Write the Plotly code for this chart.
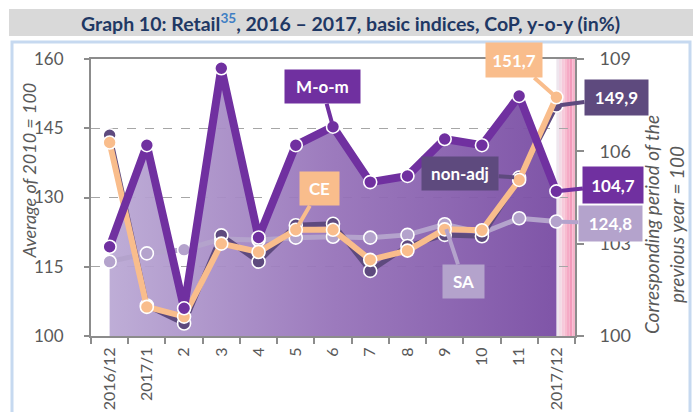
import plotly.graph_objects as go

categories = ["2016/12", "2017/1", "2", "3", "4", "5", "6", "7", "8", "9", "10", "11", "2017/12"]
mom = [102.9, 106.2, 100.9, 108.7, 103.2, 106.2, 106.8, 105.0, 105.2, 106.4, 106.2, 107.8, 104.7]
ce = [141.9, 106.3, 104.2, 120.0, 118.2, 123.0, 123.0, 116.5, 118.5, 123.1, 122.9, 133.8, 151.7]
sa = [116.1, 117.9, 118.7, 121.0, 120.8, 121.3, 121.5, 121.3, 121.9, 124.2, 122.3, 125.5, 124.8]
nonadj = [143.5, 106.6, 102.7, 121.8, 116.1, 124.0, 124.3, 114.1, 119.5, 121.9, 121.6, 134.3, 149.9]
left_ticks = [100, 115, 130, 145, 160]
right_ticks = [100, 103, 106, 109]

FONT = "Lato, 'Open Sans', sans-serif"
C_MOM = "#7030a0"
C_CE = "#f9bd8c"
C_SA = "#b4a3cc"
C_NA = "#5e4a7e"
GREY = "#595959"
AXC = "#8c8c8c"

fig = go.Figure()

# area under M-o-m (right axis, main subplot -> drawn first)
fig.add_trace(go.Scatter(
    x=categories, y=mom, yaxis="y", mode="none", fill="tozeroy",
    fillgradient=dict(type="horizontal",
                      colorscale=[[0, "rgba(186,168,212,0.94)"], [0.5, "rgba(150,114,185,0.94)"],
                                  [1, "rgba(122,78,164,0.96)"]]),
    hoverinfo="skip", showlegend=False))


def line_trace(y, color, width, axis):
    return go.Scatter(
        x=categories, y=y, yaxis=axis, mode="lines+markers",
        line=dict(color=color, width=width),
        marker=dict(size=13, color=color, line=dict(color="white", width=1.6)),
        showlegend=False)


fig.add_trace(line_trace(sa, C_SA, 5, "y2"))
fig.add_trace(line_trace(nonadj, C_NA, 5, "y2"))
fig.add_trace(line_trace(ce, C_CE, 6, "y2"))
fig.add_trace(line_trace(mom, C_MOM, 8, "y3"))

# pink decorative strip at right
pinks = ["#eee6ee", "#f2dbe6", "#f6cadb", "#f7bcd0", "#f5aac5", "#f39bbb", "#f6b4cb"]
n = len(pinks)
shapes = []
for i, col in enumerate(pinks):
    shapes.append(dict(type="rect", xref="x", yref="y domain",
                       x0=12 + 0.5 * i / n, x1=12 + 0.5 * (i + 1) / n, y0=0, y1=1,
                       fillcolor=col, line=dict(width=0), layer="below"))

W, H = 693, 412
L, R, T, B = 91, 118, 59, 76
pw, ph = W - L - R, H - T - B


def px(x):
    return (x - L) / pw


def py(y):
    return (H - B - y) / ph


shapes.append(dict(type="rect", xref="paper", yref="paper", x0=px(9), x1=px(693), y0=py(36), y1=py(9),
                   fillcolor="#d9d9d9", line=dict(width=0), layer="below"))
shapes.append(dict(type="rect", xref="paper", yref="paper", x0=px(12), x1=px(690), y0=py(420), y1=py(42),
                   fillcolor="rgba(0,0,0,0)", line=dict(color="#c6d9f0", width=3), layer="below"))

annotations = [
    dict(xref="paper", yref="paper", x=px(350), y=py(23), showarrow=False,
         text="<b>Graph 10: Retail<sup><span style='color:#3f7fc4'>35</span></sup>, 2016 – 2017, basic indices, CoP, y-o-y (in%)</b>",
         font=dict(family=FONT, size=19.5, color="#1f3864"), xanchor="center", yanchor="middle"),
    dict(xref="paper", yref="paper", x=px(28.5), y=py(171), showarrow=False, textangle=-90,
         text="<i>Average of 2010 = 100</i>", font=dict(family=FONT, size=18, color=GREY),
         xanchor="center", yanchor="middle"),
    dict(xref="paper", yref="paper", x=px(664), y=py(225), showarrow=False, textangle=-90,
         text="<i>Corresponding period of the<br>previous year = 100</i>",
         font=dict(family=FONT, size=19, color=GREY), xanchor="center", yanchor="middle"),
]


def callout(text, cat, yval, yref, color, ax, ay, w, h):
    return dict(x=cat, y=yval, xref="x", yref=yref, text="<b>%s</b>" % text,
                showarrow=True, arrowhead=0, arrowwidth=4, arrowcolor=color,
                ax=ax, ay=ay, standoff=5, bgcolor=color, borderpad=0, width=w, height=h,
                font=dict(family=FONT, size=17, color="white"), align="center", valign="middle")


annotations += [
    callout("M-o-m", categories[6], mom[6], "y3", C_MOM, -11, -40, 75, 33),
    callout("CE", categories[5], ce[5], "y2", C_CE, 24, -41, 39, 33),
    callout("non-adj", categories[11], nonadj[11], "y2", C_NA, -59, -4, 76, 33),
    callout("SA", categories[9], sa[9], "y2", C_SA, 19, 57, 41, 33),
    callout("151,7", categories[12], ce[12], "y2", C_CE, -42, -37, 56, 34),
    callout("149,9", categories[12], nonadj[12], "y2", C_NA, 60, -8, 63, 35),
    callout("104,7", categories[12], mom[12], "y3", C_MOM, 57, -6, 60, 36),
    callout("124,8", categories[12], sa[12], "y2", C_SA, 54, 2, 63, 35),
]

fig.update_layout(
    width=W, height=H, margin=dict(l=L, r=R, t=T, b=B, pad=0, autoexpand=False),
    paper_bgcolor="white", plot_bgcolor="white",
    font=dict(family=FONT, color=GREY),
    shapes=shapes, annotations=annotations, showlegend=False,
    xaxis=dict(type="category", categoryorder="array", categoryarray=categories,
               range=[-0.5, 12.5], tickson="boundaries", ticks="outside", ticklen=6,
               tickcolor=AXC, tickwidth=2, showline=True, linecolor=AXC, linewidth=2,
               mirror=True, showgrid=False, tickangle=-90, tickfont=dict(size=16, color=GREY),
               ticklabelstandoff=3, automargin=False),
    yaxis=dict(range=[100, 109], tickvals=right_ticks, side="right",
               ticks="outside", ticklen=7, tickcolor=AXC, tickwidth=2,
               showline=True, linecolor=AXC, linewidth=2, showgrid=False, zeroline=False,
               tickfont=dict(size=18, color=GREY), ticklabelstandoff=12, automargin=False),
    yaxis2=dict(range=[100, 160], tickvals=left_ticks, overlaying="y", side="left",
                ticks="outside", ticklen=5,
                tickcolor=AXC, tickwidth=2, showline=True, linecolor=AXC, linewidth=2,
                showgrid=True, gridcolor="#a6a6a6", griddash="dash", gridwidth=1.3,
                zeroline=False, tickfont=dict(size=17, color=GREY), ticklabelstandoff=17,
                automargin=False),
    yaxis3=dict(range=[100, 109], overlaying="y", side="right", visible=False, automargin=False),
)

fig.write_html("out.html", config={"displayModeBar": False},
               post_script="document.body.style.margin='0';")
